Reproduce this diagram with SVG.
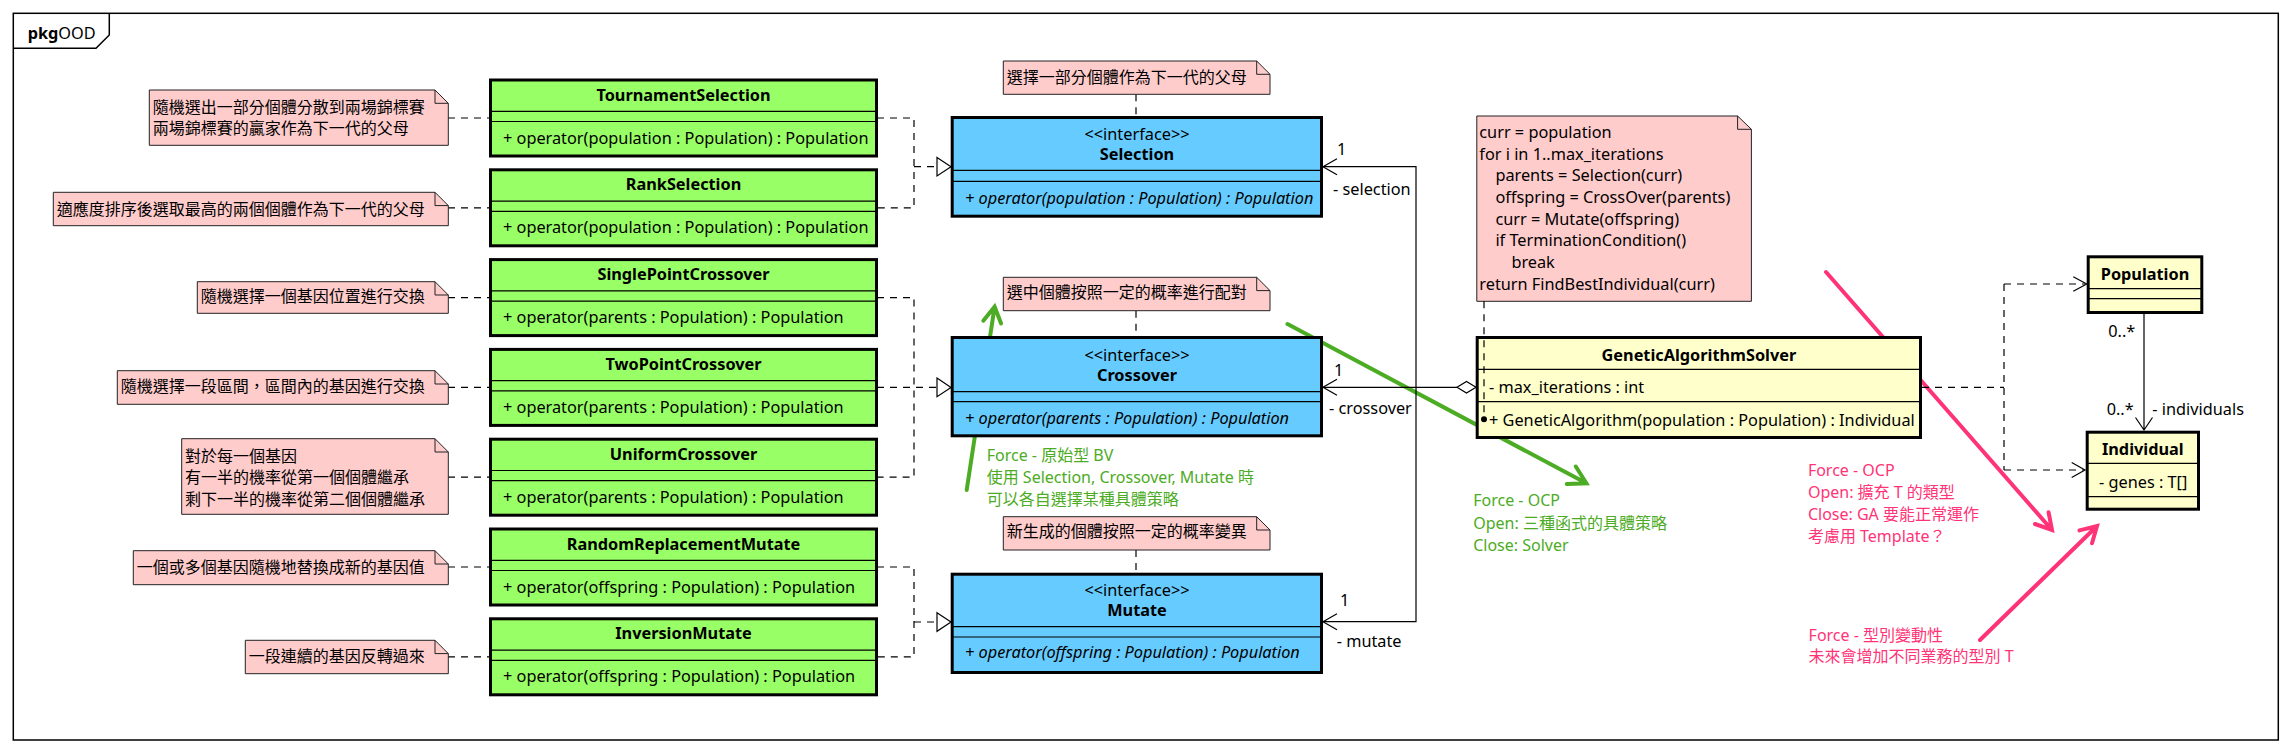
<svg xmlns="http://www.w3.org/2000/svg" width="2292" height="753" viewBox="0 0 2292 753">
<style>
.t{font-family:"Noto Sans","Noto Sans CJK TC",sans-serif;font-size:16.3px;fill:#000}
.cj{font-size:16px}
.b{font-weight:bold}
.i{font-style:italic}
.c{text-anchor:middle}
.cls{stroke:#000;stroke-width:3}
.gr{fill:#99FF66}
.bl{fill:#66CCFF}
.ye{fill:#FFFFCC}
.sep{stroke:#000;stroke-width:1.2}
.note{fill:#FFCCCC;stroke:#222;stroke-width:1}
.fold{fill:none;stroke:#222;stroke-width:1}
.dash{fill:none;stroke:#000;stroke-width:1.2;stroke-dasharray:7 6}
.line{fill:none;stroke:#000;stroke-width:1.2}
.tri{fill:#fff;stroke:#000;stroke-width:1.2}
.gline{fill:none;stroke:#4CAC24;stroke-width:4;stroke-linecap:round}
.pline{fill:none;stroke:#FF3377;stroke-width:4;stroke-linecap:round}
.gt{fill:#4CAC24}
.pt{fill:#FF3377}
</style>
<rect width="2292" height="753" fill="#fff"/>
<g id="frame">
<rect x="13.3" y="13.3" width="2265" height="726.7" fill="none" stroke="#000" stroke-width="1.5"/>
<path d="M13.3,48.3 H96 L109.3,35 V13.3" fill="none" stroke="#000" stroke-width="1.5"/>
<text class="t b" x="27.7" y="39.3">pkg</text>
<text class="t" x="58.3" y="39.3">OOD</text>
</g>
<g id="annotation-lines">
<path class="gline" d="M966.7,490 L994.6,306.7 M983.3,320.7 L994.6,306.7 L1001.1,323.5"/>
<path class="gline" d="M1287.5,324 L1586.4,483.3 M1566.8,484 L1586.4,483.3 L1575.8,466.5"/>
<path class="pline" d="M1826,272 L2052,530 M2035,524 L2052,530 L2048.6,512.3"/>
<path class="pline" d="M1980,640 L2097,526 M2079.5,530.4 L2097,526 L2092,543.3"/>
</g>
<g id="connectors">
<path class="dash" d="M448,118 H490 M448,207.8 H490 M448,297.6 H490 M448,387.4 H490 M448,477.2 H490 M448,567 H490 M448,656.8 H490"/>
<path class="dash" d="M877,118 H914 V207.8 H877 M914,166.7 H937"/>
<path class="dash" d="M877,297.6 H914 V477.2 H877 M877,387.4 H937"/>
<path class="dash" d="M877,567 H914 V656.8 H877 M914,622 H937"/>
<path class="tri" d="M937,157.4 L951,166.7 L937,176 Z"/>
<path class="tri" d="M937,378.1 L951,387.4 L937,396.7 Z"/>
<path class="tri" d="M937,612.7 L951,622 L937,631.3 Z"/>
<path class="dash" d="M1136,94.3 V116 M1136,310.7 V336 M1136,550 V572.7"/>
<path class="line" d="M1457,387.3 H1323 M1323,166.7 H1416 V621.7 H1323"/>
<path class="line" d="M1337,158.7 L1323,166.7 L1337,174.7 M1337,379.3 L1323,387.3 L1337,395.3 M1337,613.7 L1323,621.7 L1337,629.7"/>
<path class="tri" d="M1457,387.3 L1466.5,381.5 L1476,387.3 L1466.5,393.1 Z"/>
<path class="dash" d="M1922,387.3 H2004 M2004,284 V470 M2004,284 H2085 M2004,470 H2084"/>
<path class="line" d="M2073.3,276.7 L2086.7,284 L2073.3,291.3 M2071.7,462.5 L2085,470 L2071.7,477.5"/>
<path class="line" d="M2144,314 V430 M2135.5,417.5 L2144,430 L2152.5,417.5"/>
<text class="t" x="1337" y="155">1</text>
<text class="t" x="1333" y="194.8">- selection</text>
<text class="t" x="1334" y="376.2">1</text>
<text class="t" x="1329" y="413.8">- crossover</text>
<text class="t" x="1340" y="605.5">1</text>
<text class="t" x="1336.7" y="646.5">- mutate</text>
<text class="t" x="2108.3" y="337.2">0..*</text>
<text class="t" x="2106.7" y="414.5">0..*</text>
<text class="t" x="2152.3" y="414.5">- individuals</text>
</g>
<g id="TournamentSelection">
<rect class="cls gr" x="490.5" y="80" width="386" height="76"/>
<text class="t b c" x="683.5" y="100.5">TournamentSelection</text>
<path class="sep" d="M490.5,111.3 H876.5 M490.5,121.5 H876.5"/>
<text class="t" x="503" y="143.5">+ operator(population : Population) : Population</text>
</g>
<g id="RankSelection">
<rect class="cls gr" x="490.5" y="169.8" width="386" height="76"/>
<text class="t b c" x="683.5" y="190.3">RankSelection</text>
<path class="sep" d="M490.5,201.1 H876.5 M490.5,211.3 H876.5"/>
<text class="t" x="503" y="233.3">+ operator(population : Population) : Population</text>
</g>
<g id="SinglePointCrossover">
<rect class="cls gr" x="490.5" y="259.6" width="386" height="76"/>
<text class="t b c" x="683.5" y="280.1">SinglePointCrossover</text>
<path class="sep" d="M490.5,290.9 H876.5 M490.5,301.1 H876.5"/>
<text class="t" x="503" y="323.1">+ operator(parents : Population) : Population</text>
</g>
<g id="TwoPointCrossover">
<rect class="cls gr" x="490.5" y="349.4" width="386" height="76"/>
<text class="t b c" x="683.5" y="369.9">TwoPointCrossover</text>
<path class="sep" d="M490.5,380.7 H876.5 M490.5,390.9 H876.5"/>
<text class="t" x="503" y="412.9">+ operator(parents : Population) : Population</text>
</g>
<g id="UniformCrossover">
<rect class="cls gr" x="490.5" y="439.2" width="386" height="76"/>
<text class="t b c" x="683.5" y="459.7">UniformCrossover</text>
<path class="sep" d="M490.5,470.5 H876.5 M490.5,480.7 H876.5"/>
<text class="t" x="503" y="502.7">+ operator(parents : Population) : Population</text>
</g>
<g id="RandomReplacementMutate">
<rect class="cls gr" x="490.5" y="529" width="386" height="76"/>
<text class="t b c" x="683.5" y="549.5">RandomReplacementMutate</text>
<path class="sep" d="M490.5,560.3 H876.5 M490.5,570.5 H876.5"/>
<text class="t" x="503" y="592.5">+ operator(offspring : Population) : Population</text>
</g>
<g id="InversionMutate">
<rect class="cls gr" x="490.5" y="618.8" width="386" height="76"/>
<text class="t b c" x="683.5" y="639.3">InversionMutate</text>
<path class="sep" d="M490.5,650.1 H876.5 M490.5,660.3 H876.5"/>
<text class="t" x="503" y="682.3">+ operator(offspring : Population) : Population</text>
</g>
<g id="Selection">
<rect class="cls bl" x="952.2" y="117.5" width="369.3" height="98.7"/>
<text class="t c" x="1137" y="139.5">&lt;&lt;interface&gt;&gt;</text>
<text class="t b c" x="1137" y="159.5">Selection</text>
<path class="sep" d="M952.2,170.3 H1321.5 M952.2,181.3 H1321.5"/>
<text class="t i" x="965" y="203.8">+ operator(population : Population) : Population</text>
</g>
<g id="Crossover">
<rect class="cls bl" x="952.2" y="337.5" width="369.3" height="98.3"/>
<text class="t c" x="1137" y="360.5">&lt;&lt;interface&gt;&gt;</text>
<text class="t b c" x="1137" y="380.8">Crossover</text>
<path class="sep" d="M952.2,391.7 H1321.5 M952.2,401.7 H1321.5"/>
<text class="t i" x="965" y="423.8">+ operator(parents : Population) : Population</text>
</g>
<g id="Mutate">
<rect class="cls bl" x="952.2" y="574.2" width="369.3" height="98.3"/>
<text class="t c" x="1137" y="596.2">&lt;&lt;interface&gt;&gt;</text>
<text class="t b c" x="1137" y="615.5">Mutate</text>
<path class="sep" d="M952.2,626.7 H1321.5 M952.2,637 H1321.5"/>
<text class="t i" x="965" y="658.2">+ operator(offspring : Population) : Population</text>
</g>
<g id="GeneticAlgorithmSolver">
<rect class="cls ye" x="1477.2" y="337.5" width="443.3" height="100"/>
<text class="t b c" x="1698.9" y="360.8">GeneticAlgorithmSolver</text>
<path class="sep" d="M1477.2,369.3 H1920.5 M1477.2,401.7 H1920.5"/>
<text class="t" x="1489" y="392.8">- max_iterations : int</text>
<text class="t" x="1489" y="425.5">+ GeneticAlgorithm(population : Population) : Individual</text>
</g>
<g id="Population">
<rect class="cls ye" x="2088.2" y="256.8" width="113.6" height="55.7"/>
<text class="t b c" x="2145" y="279.8">Population</text>
<path class="sep" d="M2088.2,288.7 H2201.8 M2088.2,298.7 H2201.8"/>
</g>
<g id="Individual">
<rect class="cls ye" x="2087.2" y="432.2" width="111.3" height="77"/>
<text class="t b c" x="2142.8" y="454.5">Individual</text>
<path class="sep" d="M2087.2,463.3 H2198.5 M2087.2,496.7 H2198.5"/>
<text class="t" x="2099" y="487.8">- genes : T[]</text>
</g>
<g id="note-tournament">
<path class="note" d="M149.3,90 H435 L448.3,103.3 V145.3 H149.3 Z"/><path class="fold" d="M435,90 V103.3 H448.3"/>
<text class="t cj" x="152.7" y="112.8">隨機選出一部分個體分散到兩場錦標賽</text>
<text class="t cj" x="152.7" y="133.8">兩場錦標賽的贏家作為下一代的父母</text>
</g>
<g id="note-rank">
<path class="note" d="M53.3,192.3 H435 L448.3,205.6 V225.7 H53.3 Z"/><path class="fold" d="M435,192.3 V205.6 H448.3"/>
<text class="t cj" x="56.7" y="214.5">適應度排序後選取最高的兩個個體作為下一代的父母</text>
</g>
<g id="note-singlepoint">
<path class="note" d="M197.3,281.7 H435 L448.3,295 V313.3 H197.3 Z"/><path class="fold" d="M435,281.7 V295 H448.3"/>
<text class="t cj" x="200.7" y="302.2">隨機選擇一個基因位置進行交換</text>
</g>
<g id="note-twopoint">
<path class="note" d="M117.3,370.7 H435 L448.3,384 V404.3 H117.3 Z"/><path class="fold" d="M435,370.7 V384 H448.3"/>
<text class="t cj" x="120.7" y="392.2">隨機選擇一段區間，區間內的基因進行交換</text>
</g>
<g id="note-uniform">
<path class="note" d="M181.7,438.7 H435 L448.3,452 V514.3 H181.7 Z"/><path class="fold" d="M435,438.7 V452 H448.3"/>
<text class="t cj" x="185" y="461.5">對於每一個基因</text>
<text class="t cj" x="185" y="483.2">有一半的機率從第一個個體繼承</text>
<text class="t cj" x="185" y="504.5">剩下一半的機率從第二個個體繼承</text>
</g>
<g id="note-randomreplacement">
<path class="note" d="M133.3,550.7 H435 L448.3,564 V584.7 H133.3 Z"/><path class="fold" d="M435,550.7 V564 H448.3"/>
<text class="t cj" x="136.7" y="573.2">一個或多個基因隨機地替換成新的基因值</text>
</g>
<g id="note-inversion">
<path class="note" d="M245.3,640.3 H435 L448.3,653.6 V673.7 H245.3 Z"/><path class="fold" d="M435,640.3 V653.6 H448.3"/>
<text class="t cj" x="248.7" y="662.2">一段連續的基因反轉過來</text>
</g>
<g id="note-selection">
<path class="note" d="M1003.3,61 H1256.7 L1270,74.3 V94.3 H1003.3 Z"/><path class="fold" d="M1256.7,61 V74.3 H1270"/>
<text class="t cj" x="1006.7" y="82.8">選擇一部分個體作為下一代的父母</text>
</g>
<g id="note-crossover">
<path class="note" d="M1003.3,277.3 H1256.7 L1270,290.6 V310.7 H1003.3 Z"/><path class="fold" d="M1256.7,277.3 V290.6 H1270"/>
<text class="t cj" x="1006.7" y="298.2">選中個體按照一定的概率進行配對</text>
</g>
<g id="note-mutate">
<path class="note" d="M1003.3,516.7 H1256.7 L1270,530 V550 H1003.3 Z"/><path class="fold" d="M1256.7,516.7 V530 H1270"/>
<text class="t cj" x="1006.7" y="537.2">新生成的個體按照一定的概率變異</text>
</g>
<g id="note-solver">
<path class="note" d="M1476.8,116 H1737.6 L1751.4,129.3 V301.3 H1476.8 Z"/><path class="fold" d="M1737.6,116 V129.3 H1751.4"/>
<text class="t" x="1479.3" y="137.8">curr = population</text>
<text class="t" x="1479.3" y="159.5">for i in 1..max_iterations</text>
<text class="t" x="1495.4" y="181.2">parents = Selection(curr)</text>
<text class="t" x="1495.4" y="202.9">offspring = CrossOver(parents)</text>
<text class="t" x="1495.4" y="224.6">curr = Mutate(offspring)</text>
<text class="t" x="1495.4" y="246.3">if TerminationCondition()</text>
<text class="t" x="1511.4" y="268">break</text>
<text class="t" x="1479.3" y="289.7">return FindBestIndividual(curr)</text>
<path class="dash" d="M1484,301.3 V416"/>
<circle cx="1484" cy="419.3" r="3" fill="#000"/>
</g>
<g id="annotation-texts">
<text class="t cj gt" x="986.7" y="460.5">Force - 原始型 BV</text>
<text class="t cj gt" x="986.7" y="482.8">使用 Selection, Crossover, Mutate 時</text>
<text class="t cj gt" x="986.7" y="504.8">可以各自選擇某種具體策略</text>
<text class="t cj gt" x="1473.2" y="506.2">Force - OCP</text>
<text class="t cj gt" x="1473.2" y="528.8">Open: 三種函式的具體策略</text>
<text class="t cj gt" x="1473.2" y="551.2">Close: Solver</text>
<text class="t cj pt" x="1807.9" y="475.5">Force - OCP</text>
<text class="t cj pt" x="1807.9" y="497.8">Open: 擴充 T 的類型</text>
<text class="t cj pt" x="1807.9" y="519.8">Close: GA 要能正常運作</text>
<text class="t cj pt" x="1807.9" y="542.2">考慮用 Template？</text>
<text class="t cj pt" x="1808.6" y="640.5">Force - 型別變動性</text>
<text class="t cj pt" x="1808.6" y="662.2">未來會增加不同業務的型別 T</text>
</g>
</svg>
